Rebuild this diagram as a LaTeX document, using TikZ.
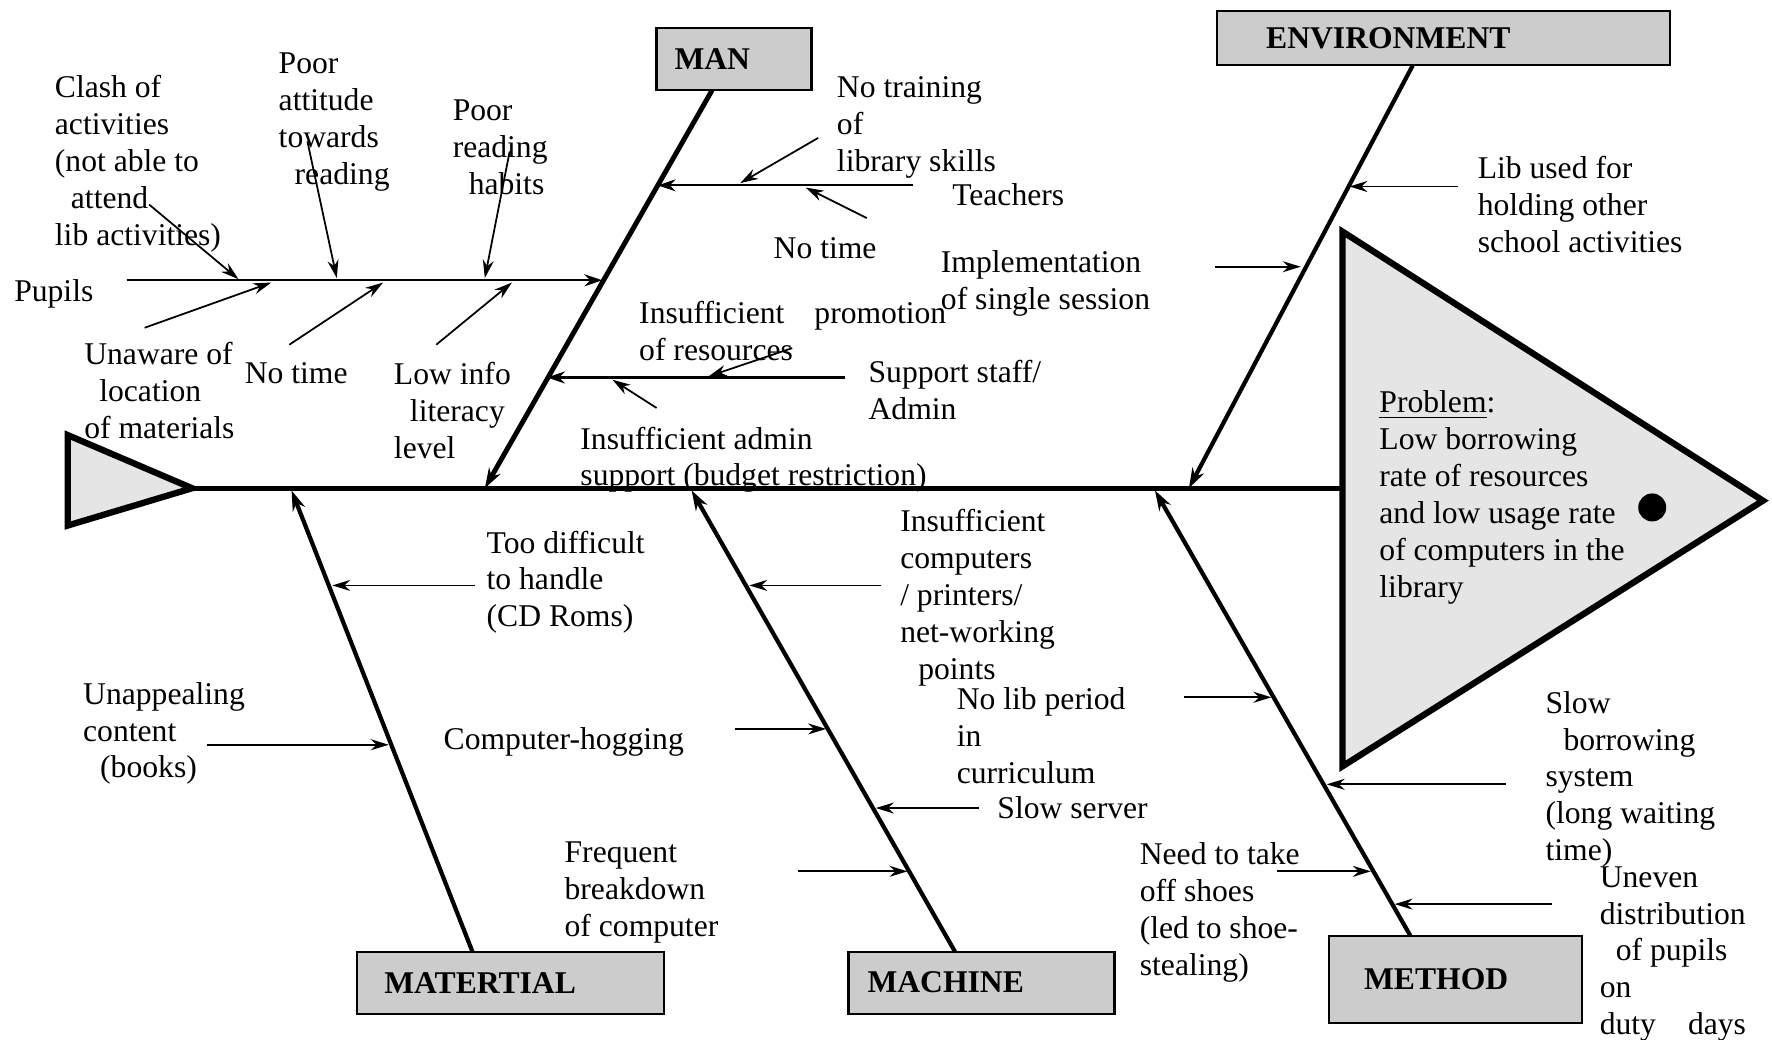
\documentclass[tikz,border=0pt]{standalone}
\usepackage{fontspec}
\setmainfont{Liberation Serif}
\usetikzlibrary{arrows.meta}

\tikzset{
  lbl/.style={anchor=north west, inner sep=0pt, align=left, font=\fontsize{9}{10.5}\selectfont},
  catbox/.style={draw, line width=0.6pt, fill=gray!40, inner ysep=0pt, align=left, font=\fontsize{9}{10.5}\selectfont\bfseries},
  spine/.style={line width=1.5pt},
  bone/.style={line width=1.2pt, -{Stealth[length=2mm,width=1.3mm]}},
  sub/.style={line width=0.6pt, -{Stealth[length=1.8mm,width=1.2mm]}},
  cause/.style={line width=0.5pt, -{Stealth[length=1.8mm,width=1.1mm]}},
}

\begin{document}
\begin{tikzpicture}[x=0.113mm, y=-0.113mm]
  \useasboundingbox (0,0) rectangle (1568,920);

  % head and tail
  \filldraw[fill=gray!20, line width=1.8pt] (60,385) -- (170,432) -- (60,465) -- cycle;
  \filldraw[fill=gray!20, line width=1.8pt] (1188,205) -- (1560,443) -- (1188,678) -- cycle;
  \fill (1462,449) circle (1.4mm);
  \coordinate (tail) at (170,432);
  \coordinate (head) at (1188,432);
  \draw[spine] (tail) -- (head);

  % category boxes
  \node[catbox, text width=11.9mm, inner xsep=1.8mm, minimum height=6.2mm] (man) at (649.5,52.5) {MAN};
  \node[catbox, text width=35.5mm, inner xsep=4.9mm, minimum height=5.4mm] (env) at (1277.5,34) {ENVIRONMENT};
  \node[catbox, text width=25.3mm, inner xsep=2.7mm, minimum height=6.2mm] (mat) at (452,869.5) {MATERTIAL};
  \node[catbox, text width=22.8mm, inner xsep=1.9mm, minimum height=6.2mm] (mac) at (868.5,869.5) {MACHINE};
  \node[catbox, text width=18.3mm, inner xsep=3.5mm, minimum height=8.7mm] (met) at (1288,866.5) {METHOD};

  % bones
  \coordinate (manTop) at (630,80);   \coordinate (manEnd) at (429,432);
  \coordinate (envTop) at (1250,58);  \coordinate (envEnd) at (1052,432);
  \coordinate (matTop) at (418,842);  \coordinate (matEnd) at (258,434);
  \coordinate (macTop) at (845,842);  \coordinate (macEnd) at (612,434);
  \coordinate (metTop) at (1248,828); \coordinate (metEnd) at (1022,434);
  \draw[bone, line width=1.4pt] (manTop) -- (manEnd);
  \draw[bone] (envTop) -- (envEnd);
  \draw[bone] (matTop) -- (matEnd);
  \draw[bone] (macTop) -- (macEnd);
  \draw[bone] (metTop) -- (metEnd);

  % man: pupils, teachers, support staff
  \coordinate (pupA) at (112,248); \coordinate (pupB) at (533,248);
  \coordinate (teaA) at (808,164); \coordinate (teaB) at (582,164);
  \coordinate (supA) at (748,334); \coordinate (supB) at (484,334);
  \draw[sub] (pupA) -- (pupB);
  \draw[sub] (teaA) -- (teaB);
  \draw[sub] (supA) -- (supB);

  \node[lbl] (pupils) at (12,247) {Pupils};
  \node[lbl] (clash) at (48,66) {Clash of\\activities\\(not able to\\\hspace*{1.6mm}attend\\lib activities)};
  \node[lbl] (attitude) at (246,46) {Poor\\attitude\\towards\\\hspace*{1.6mm}reading};
  \node[lbl] (habits) at (400,88) {Poor\\reading\\\hspace*{1.6mm}habits};
  \node[lbl] (unaware) at (74,302) {Unaware of\\\hspace*{1.5mm}location\\of materials};
  \node[lbl] (notimeP) at (216,320) {No time};
  \node[lbl] (lowinfo) at (348,320) {Low info\\\hspace*{1.6mm}literacy\\level};
  \node[lbl] (teachers) at (842,162) {Teachers};
  \node[lbl] (notrain) at (740,67) {No training\\of\\library skills};
  \node[lbl] (notimeT) at (684,210) {No time};
  \node[lbl] (support) at (768,318) {Support staff/\\Admin};
  \node[lbl] (promo) at (565,266) {Insufficient\hspace*{3mm}promotion\\of resources};
  \node[lbl] (admin) at (513,377) {Insufficient admin\\support (budget restriction)};

  \coordinate (c1a) at (132,181); \coordinate (c1b) at (211,247);
  \coordinate (c2a) at (272,125); \coordinate (c2b) at (298,246);
  \coordinate (c3a) at (451,134); \coordinate (c3b) at (429,246);
  \coordinate (c4a) at (128,290); \coordinate (c4b) at (240,250);
  \coordinate (c5a) at (256,305); \coordinate (c5b) at (339,250);
  \coordinate (c6a) at (386,305); \coordinate (c6b) at (453,250);
  \coordinate (t1a) at (724,122); \coordinate (t1b) at (655,162);
  \coordinate (t2a) at (767,193); \coordinate (t2b) at (713,166);
  \coordinate (s1a) at (701,308); \coordinate (s1b) at (627,333);
  \coordinate (s2a) at (581,361); \coordinate (s2b) at (542,336);
  \draw[cause] (c1a) -- (c1b);
  \draw[cause] (c2a) -- (c2b);
  \draw[cause] (c3a) -- (c3b);
  \draw[cause] (c4a) -- (c4b);
  \draw[cause] (c5a) -- (c5b);
  \draw[cause] (c6a) -- (c6b);
  \draw[cause] (t1a) -- (t1b);
  \draw[cause] (t2a) -- (t2b);
  \draw[cause] (s1a) -- (s1b);
  \draw[cause] (s2a) -- (s2b);

  % environment
  \node[lbl] (libused) at (1307,138) {Lib used for\\holding other\\school activities};
  \node[lbl] (implem) at (832,221) {Implementation\\of single session};
  \coordinate (e1a) at (1290,165); \coordinate (e1b) at (1194,165);
  \coordinate (e2a) at (1075,236); \coordinate (e2b) at (1151,236);
  \draw[cause] (e1a) -- (e1b);
  \draw[cause] (e2a) -- (e2b);

  % problem
  \node[lbl] (problem) at (1220,345) {\underline{Problem}:\\Low borrowing\\rate of resources\\and low usage rate\\of computers in the\\library};

  % material
  \node[lbl] (toodiff) at (430,469) {Too difficult\\to handle\\(CD Roms)};
  \node[lbl] (unappeal) at (73,603) {Unappealing\\content\\\hspace*{1.7mm}(books)};
  \coordinate (m1a) at (420,518); \coordinate (m1b) at (294,518);
  \coordinate (m2a) at (183,659); \coordinate (m2b) at (344,659);
  \draw[cause] (m1a) -- (m1b);
  \draw[cause] (m2a) -- (m2b);

  % machine
  \node[lbl] (insuffcomp) at (796,450) {Insufficient\\computers\\/ printers/\\net-working\\\hspace*{1.8mm}points};
  \node[lbl] (hogging) at (392,643) {Computer-hogging};
  \node[lbl] (slowserver) at (882,704) {Slow server};
  \node[lbl] (frequent) at (499,744) {Frequent\\breakdown\\of computer};
  \coordinate (k1a) at (780,518); \coordinate (k1b) at (663,518);
  \coordinate (k2a) at (650,645); \coordinate (k2b) at (731,645);
  \coordinate (k3a) at (866,715); \coordinate (k3b) at (775,715);
  \coordinate (k4a) at (706,771); \coordinate (k4b) at (803,771);
  \draw[cause] (k1a) -- (k1b);
  \draw[cause] (k2a) -- (k2b);
  \draw[cause] (k3a) -- (k3b);
  \draw[cause] (k4a) -- (k4b);

  % method
  \node[lbl] (nolib) at (846,608) {No lib period\\in\\curriculum};
  \node[lbl] (slowborrow) at (1367,611) {Slow\\\hspace*{1.8mm}borrowing\\system\\(long waiting\\time)};
  \node[lbl] (shoes) at (1008,745) {Need to take\\off shoes\\(led to shoe-\\stealing)};
  \node[lbl] (uneven) at (1415,766) {Uneven\\distribution\\\hspace*{1.6mm}of pupils\\on\\duty\hspace*{3.2mm}days};
  \coordinate (h1a) at (1048,617); \coordinate (h1b) at (1125,617);
  \coordinate (h2a) at (1333,694); \coordinate (h2b) at (1174,694);
  \coordinate (h3a) at (1130,771); \coordinate (h3b) at (1213,771);
  \coordinate (h4a) at (1373,800); \coordinate (h4b) at (1234,800);
  \draw[cause] (h1a) -- (h1b);
  \draw[cause] (h2a) -- (h2b);
  \draw[cause] (h3a) -- (h3b);
  \draw[cause] (h4a) -- (h4b);
\end{tikzpicture}
\end{document}
